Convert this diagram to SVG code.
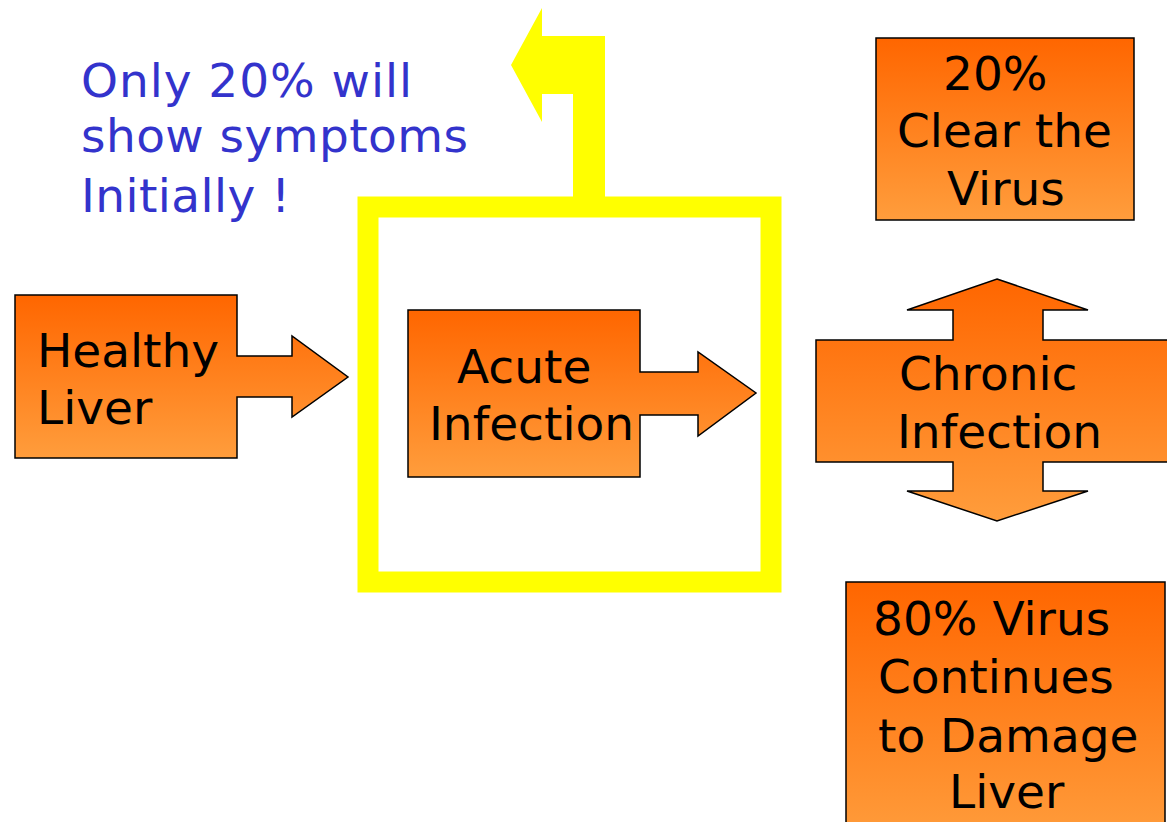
<svg xmlns="http://www.w3.org/2000/svg" width="1167" height="822" viewBox="0 0 1167 822">
<style>
.shape{fill:url(#og);stroke:#000;stroke-width:1.5;stroke-linejoin:miter}
.t{font-family:"DejaVu Sans",Verdana,sans-serif;font-size:47px;fill:#000}
.b{font-family:"DejaVu Sans",Verdana,sans-serif;font-size:47px;fill:#3333CC}
</style>
<defs>
<linearGradient id="og" x1="0" y1="0" x2="0" y2="1">
<stop offset="0" stop-color="#FF6600"/>
<stop offset="1" stop-color="#FF9D3C"/>
</linearGradient>
</defs>
<rect width="1167" height="822" fill="#fff"/>
<g id="connectors">
<rect x="368" y="207" width="403" height="375" fill="none" stroke="#FFFF00" stroke-width="21"/>
<polygon points="605,197 605,36 542,36 542,8 511,65 542,122 542,94 573,94 573,197" fill="#FFFF00"/>
</g>
<g id="note">
<text class="b" x="81" y="97" textLength="331" lengthAdjust="spacing">Only 20% will</text>
<text class="b" x="81" y="152" textLength="387" lengthAdjust="spacing">show symptoms</text>
<text class="b" x="81" y="212" textLength="209" lengthAdjust="spacing">Initially !</text>
</g>
<g id="healthy">
<polygon class="shape" points="15,295 237,295 237,356 292,356 292,336 348,377 292,417 292,397 237,397 237,458 15,458"/>
<text class="t" x="37" y="367">Healthy</text>
<text class="t" x="37" y="424">Liver</text>
</g>
<g id="acute">
<polygon class="shape" points="408,310 640,310 640,372 698,372 698,352 756,393 698,436 698,415 640,415 640,477 408,477"/>
<text class="t" x="457" y="383">Acute</text>
<text class="t" x="429" y="440">Infection</text>
</g>
<g id="chronic">
<polygon class="shape" points="997,279 1088,310 1043,310 1043,340 1180,340 1180,462 1043,462 1043,491 1088,491 997,521 907,491 953,491 953,462 816,462 816,340 953,340 953,310 907,310"/>
<text class="t" x="899" y="390">Chronic</text>
<text class="t" x="897" y="448">Infection</text>
</g>
<g id="clear">
<rect class="shape" x="876" y="38" width="258" height="182"/>
<text class="t" x="943" y="90">20%</text>
<text class="t" x="897" y="147">Clear the</text>
<text class="t" x="947" y="205">Virus</text>
</g>
<g id="damage">
<rect class="shape" x="846" y="582" width="319" height="260"/>
<text class="t" x="873" y="635">80% Virus</text>
<text class="t" x="878" y="693">Continues</text>
<text class="t" x="878" y="752">to Damage</text>
<text class="t" x="949" y="808">Liver</text>
</g>
</svg>
